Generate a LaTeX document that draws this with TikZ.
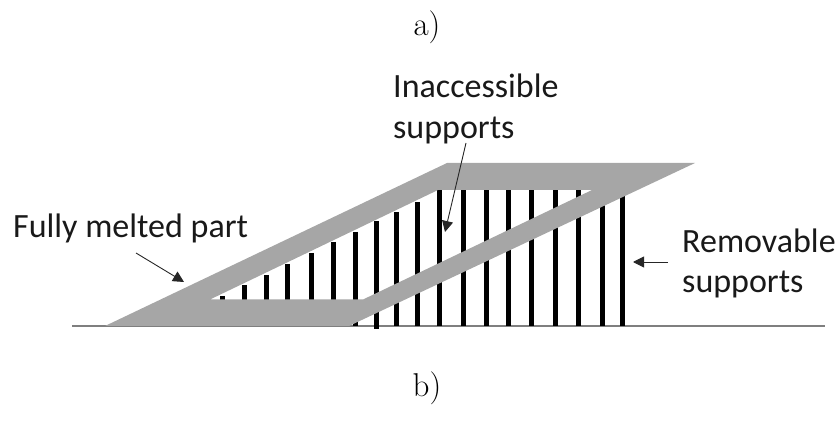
\documentclass[tikz,border=0pt]{standalone}
\usepackage{fontspec}
\usetikzlibrary{arrows.meta}
\newfontfamily\labelfont{Carlito}
\definecolor{partgray}{HTML}{A6A6A6}
\definecolor{groundgray}{HTML}{7F7F7F}
\tikzset{
  x=1pt,y=-1pt,
  partlabel/.style={font=\labelfont\fontsize{34}{40.5}\selectfont,align=left,inner sep=0pt,anchor=west,text=black!90},
  caption/.style={font=\fontsize{33}{38}\selectfont,inner sep=0pt},
  pointer/.style={draw=black!85,line width=0.9pt,-{Triangle[length=11pt,width=11pt]},shorten >=0pt},
  bar/.style={draw=black,line width=5pt},
  ground/.style={draw=groundgray,line width=1.5pt},
}
\begin{document}
\begin{tikzpicture}
\useasboundingbox (0,0) rectangle (838,430);
\node[caption] (capa) at (427,27) {a)};
\node[caption] (capb) at (427,388) {b)};
\draw[ground] (72,326) -- (825,326);
% supports
\foreach \x/\t/\b in {222/296/326,244/285/326,266/275/326,287/264/326,311/253/326,333/242/326,355/232/326,376/221/329,396/212/326,417/202/326,439/190/326,463/190/326,486/190/326,508/190/326,531/190/326,555/190/326,578/190/326,602/190/326,622/190/326}
  \draw[bar] (\x,\t) -- (\x,\b);
% part
\fill[partgray,even odd rule] (105,326) -- (447,163) -- (695,163) -- (349,326) -- cycle
  (210,299.5) -- (438,190) -- (592,190) -- (363,299.5) -- cycle;
% labels
\node[partlabel,anchor=base west] (melted) at (13,238) {Fully melted part};
\node[partlabel] (inacc) at (393,108.7) {Inaccessible\\supports};
\node[partlabel] (remov) at (682,263.2) {Removable\\supports};
\coordinate (meltedstart) at (136,253);
\coordinate (meltedend) at (184,282);
\coordinate (inaccstart) at (466,143);
\coordinate (inaccend) at (445,232);
\coordinate (removstart) at (668,262);
\coordinate (removend) at (633,262);
\draw[pointer] (meltedstart) -- (meltedend);
\draw[pointer] (inaccstart) -- (inaccend);
\draw[pointer] (removstart) -- (removend);
\end{tikzpicture}
\end{document}
